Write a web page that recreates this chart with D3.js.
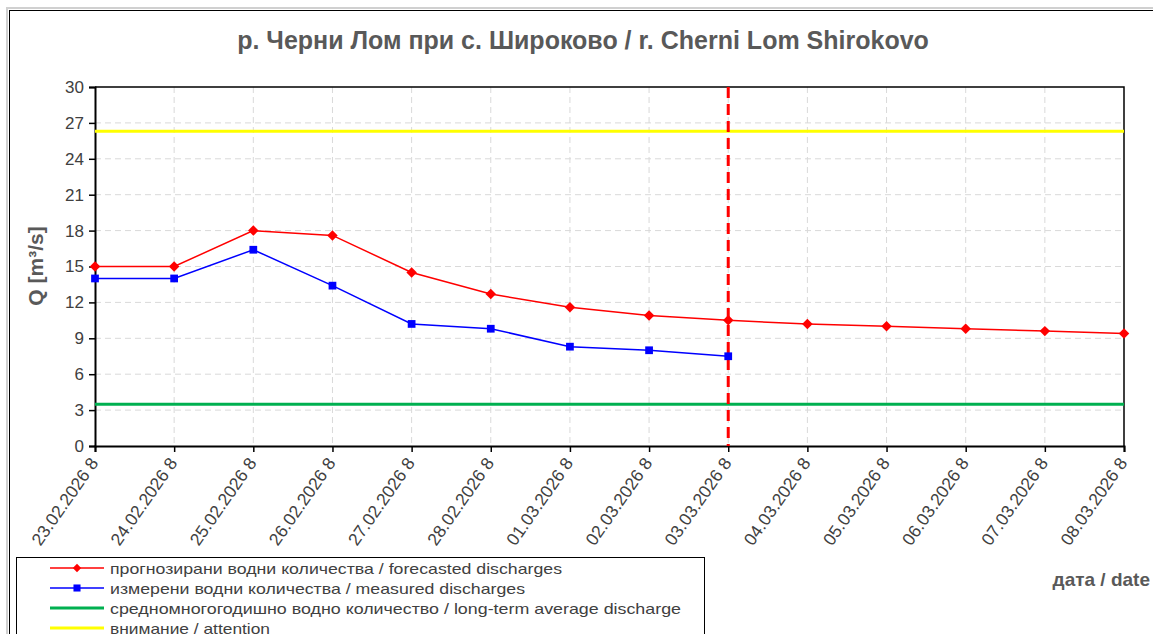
<!DOCTYPE html>
<html>
<head>
<meta charset="utf-8">
<script src="https://cdn.jsdelivr.net/npm/d3@7.9.0/dist/d3.min.js"></script>
<style>
  body { margin: 0; background: #fff; }
  svg { display: block; font-family: "Liberation Sans", Arial, sans-serif; }
</style>
</head>
<body>
<svg width="1153" height="634"></svg>
<script>
// Data
const dates = ["23.02.2026 8", "24.02.2026 8", "25.02.2026 8", "26.02.2026 8", "27.02.2026 8",
  "28.02.2026 8", "01.03.2026 8", "02.03.2026 8", "03.03.2026 8", "04.03.2026 8",
  "05.03.2026 8", "06.03.2026 8", "07.03.2026 8", "08.03.2026 8"];
const forecasted = [15.0, 15.0, 18.0, 17.6, 14.5, 12.7, 11.6, 10.9, 10.5, 10.2, 10.0, 9.8, 9.6, 9.4];
const measured = [14.0, 14.0, 16.4, 13.4, 10.2, 9.8, 8.3, 8.0, 7.5];
const longTermAvg = 3.48;
const attention = 26.3;
const currentDate = "03.03.2026 8";
const yTicks = [0, 3, 6, 9, 12, 15, 18, 21, 24, 27, 30];

const legendItems = [
  { label: "прогнозирани  водни количества / forecasted discharges", color: "#ff0000", width: 1.5, marker: "diamond", len: 452 },
  { label: "измерени  водни количества / measured discharges", color: "#0000ff", width: 1.5, marker: "square", len: 415 },
  { label: "средномногогодишно  водно количество / long-term average discharge", color: "#00b050", width: 3, marker: null, len: 571 },
  { label: "внимание / attention", color: "#ffff00", width: 3, marker: null, len: 160 }
];

const svg = d3.select("svg");
const margin = { left: 95, top: 87, right: 1124, bottom: 446 };

// outer frame
svg.append("rect").attr("x", 7).attr("y", 8).attr("width", 1160).attr("height", 640)
  .attr("fill", "none").attr("stroke", "#d0d0d0").attr("stroke-width", 2);
svg.append("rect").attr("x", 9.5).attr("y", 10.5).attr("width", 1160).attr("height", 640)
  .attr("fill", "none").attr("stroke", "#000").attr("stroke-width", 1);

const x = d3.scalePoint().domain(dates).range([margin.left, margin.right]);
const y = d3.scaleLinear().domain([0, 30]).range([margin.bottom, margin.top]);

// grid
svg.append("g").selectAll("line").data(yTicks.slice(1, -1)).join("line")
  .attr("x1", margin.left).attr("x2", margin.right)
  .attr("y1", d => y(d)).attr("y2", d => y(d))
  .attr("stroke", "#d9d9d9").attr("stroke-dasharray", "6,4");
svg.append("g").selectAll("line").data(dates.slice(1, -1)).join("line")
  .attr("x1", d => x(d)).attr("x2", d => x(d))
  .attr("y1", margin.top).attr("y2", margin.bottom)
  .attr("stroke", "#d9d9d9").attr("stroke-dasharray", "6,4");

// plot border (top and right)
svg.append("path")
  .attr("d", `M${margin.left},${margin.top}H${margin.right}V${margin.bottom}`)
  .attr("fill", "none").attr("stroke", "#000").attr("stroke-width", 1.5);

// axes
const yAxis = svg.append("g").attr("transform", `translate(${margin.left},0)`)
  .call(d3.axisLeft(y).tickValues(yTicks).tickSize(6).tickPadding(5));
const xAxis = svg.append("g").attr("transform", `translate(0,${margin.bottom})`)
  .call(d3.axisBottom(x).tickSize(6).tickFormat(""));
[yAxis, xAxis].forEach(a => {
  a.select(".domain").attr("stroke", "#000").attr("stroke-width", 2);
  a.selectAll(".tick line").attr("stroke", "#000").attr("stroke-width", 1.5);
});
yAxis.selectAll("text").attr("font-size", 17).attr("fill", "#404040")
  .attr("font-family", "Liberation Sans, Arial, sans-serif");

// rotated x labels
svg.append("g").selectAll("text").data(dates).join("text")
  .attr("transform", d => `translate(${x(d) + 4},${margin.bottom + 17}) rotate(-55)`)
  .attr("text-anchor", "end")
  .attr("font-size", 17.5)
  .attr("fill", "#404040")
  .text(d => d);

// threshold lines
svg.append("line")
  .attr("x1", margin.left).attr("x2", margin.right)
  .attr("y1", y(attention)).attr("y2", y(attention))
  .attr("stroke", "#ffff00").attr("stroke-width", 3);
svg.append("line")
  .attr("x1", margin.left).attr("x2", margin.right)
  .attr("y1", y(longTermAvg)).attr("y2", y(longTermAvg))
  .attr("stroke", "#00b050").attr("stroke-width", 3);

// series lines
const line = d3.line().x((d, i) => x(dates[i])).y(d => y(d));
svg.append("path").datum(forecasted).attr("d", line)
  .attr("fill", "none").attr("stroke", "#ff0000").attr("stroke-width", 1.5);
svg.append("path").datum(measured).attr("d", line)
  .attr("fill", "none").attr("stroke", "#0000ff").attr("stroke-width", 1.5);

// current-date marker
svg.append("line")
  .attr("x1", x(currentDate)).attr("x2", x(currentDate))
  .attr("y1", margin.top).attr("y2", margin.bottom)
  .attr("stroke", "#ff0000").attr("stroke-width", 3).attr("stroke-dasharray", "11,6");

const diamond = d3.symbol().type(d3.symbolDiamond2).size(70);
const square = d3.symbol().type(d3.symbolSquare).size(60);

svg.append("g").selectAll("path").data(measured).join("path")
  .attr("transform", (d, i) => `translate(${x(dates[i])},${y(d)})`)
  .attr("d", square).attr("fill", "#0000ff");
svg.append("g").selectAll("path").data(forecasted).join("path")
  .attr("transform", (d, i) => `translate(${x(dates[i])},${y(d)})`)
  .attr("d", diamond).attr("fill", "#ff0000");

// titles
svg.append("text").attr("x", 583).attr("y", 49).attr("text-anchor", "middle")
  .attr("font-size", 25).attr("font-weight", "bold").attr("fill", "#595959")
  .text("р. Черни Лом при с. Широково / r. Cherni Lom Shirokovo");
svg.append("text").attr("transform", "translate(43,266) rotate(-90)")
  .attr("text-anchor", "middle").attr("font-size", 21).attr("font-weight", "bold")
  .attr("fill", "#595959").text("Q [m³/s]");
svg.append("text").attr("x", 1150).attr("y", 586).attr("text-anchor", "end")
  .attr("font-size", 19).attr("font-weight", "bold").attr("fill", "#595959")
  .text("дата / date");

// legend
const legend = svg.append("g");
legend.append("rect").attr("x", 16.5).attr("y", 557.5).attr("width", 688).attr("height", 100)
  .attr("fill", "#fff").attr("stroke", "#000").attr("stroke-width", 1);
legendItems.forEach((item, i) => {
  const ly = 568 + i * 20;
  legend.append("line").attr("x1", 50).attr("x2", 104).attr("y1", ly).attr("y2", ly)
    .attr("stroke", item.color).attr("stroke-width", item.width);
  if (item.marker === "diamond") {
    legend.append("path").attr("transform", `translate(77,${ly})`)
      .attr("d", d3.symbol().type(d3.symbolDiamond2).size(45)).attr("fill", item.color);
  } else if (item.marker === "square") {
    legend.append("path").attr("transform", `translate(77,${ly})`)
      .attr("d", d3.symbol().type(d3.symbolSquare).size(50)).attr("fill", item.color);
  }
  legend.append("text").attr("x", 110).attr("y", ly + 5.5)
    .attr("font-size", 15).attr("fill", "#404040")
    .attr("textLength", item.len).attr("lengthAdjust", "spacingAndGlyphs")
    .text(item.label);
});
</script>
</body>
</html>
